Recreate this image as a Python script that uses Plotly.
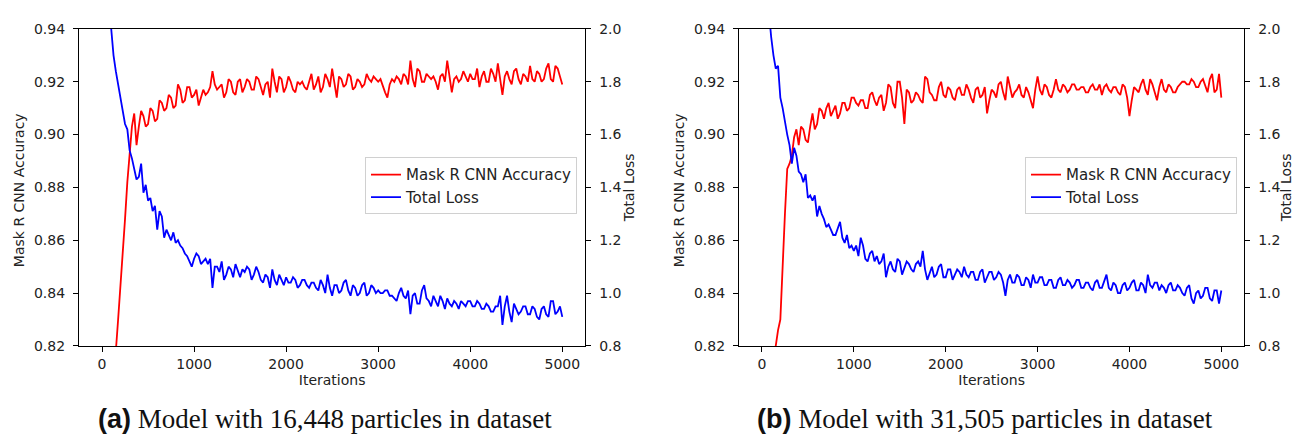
import plotly.graph_objects as go

# ---------------- data ----------------
iterations = list(range(0, 5001, 25))

acc_a = [0.700, 0.720, 0.740, 0.762, 0.785, 0.800, 0.818, 0.830, 0.842, 0.857,
         0.868, 0.882, 0.893, 0.903, 0.908, 0.896, 0.903, 0.909, 0.907, 0.903,
         0.904, 0.910, 0.909, 0.905, 0.906, 0.913, 0.912, 0.909, 0.910, 0.915,
         0.914, 0.910, 0.911, 0.919, 0.917, 0.912, 0.913, 0.918, 0.918, 0.914,
         0.915, 0.917, 0.911, 0.914, 0.917, 0.915, 0.916, 0.918, 0.924, 0.919,
         0.917, 0.918, 0.919, 0.914, 0.916, 0.921, 0.920, 0.916, 0.915, 0.920,
         0.921, 0.916, 0.918, 0.921, 0.920, 0.917, 0.917, 0.922, 0.921, 0.918,
         0.915, 0.919, 0.920, 0.914, 0.925, 0.920, 0.916, 0.922, 0.921, 0.916,
         0.918, 0.922, 0.920, 0.917, 0.916, 0.920, 0.919, 0.920, 0.918, 0.917,
         0.920, 0.923, 0.917, 0.919, 0.922, 0.916, 0.918, 0.923, 0.921, 0.918,
         0.925, 0.920, 0.914, 0.922, 0.921, 0.918, 0.919, 0.923, 0.922, 0.917,
         0.918, 0.921, 0.920, 0.918, 0.919, 0.923, 0.921, 0.920, 0.922, 0.921,
         0.920, 0.921, 0.918, 0.916, 0.914, 0.919, 0.921, 0.920, 0.922, 0.921,
         0.919, 0.923, 0.922, 0.919, 0.928, 0.921, 0.918, 0.925, 0.924, 0.920,
         0.920, 0.923, 0.922, 0.921, 0.922, 0.920, 0.917, 0.922, 0.923, 0.920,
         0.928, 0.921, 0.916, 0.921, 0.922, 0.920, 0.921, 0.924, 0.922, 0.920,
         0.923, 0.921, 0.921, 0.925, 0.918, 0.922, 0.924, 0.920, 0.920, 0.925,
         0.923, 0.920, 0.927, 0.921, 0.915, 0.922, 0.924, 0.921, 0.919, 0.924,
         0.925, 0.921, 0.919, 0.923, 0.922, 0.920, 0.926, 0.921, 0.920, 0.924,
         0.923, 0.920, 0.921, 0.925, 0.927, 0.921, 0.920, 0.926, 0.925, 0.922,
         0.919]

loss_a = [2.40, 2.30, 2.20, 2.10, 2.00, 1.90, 1.84, 1.79, 1.74, 1.70,
          1.64, 1.62, 1.54, 1.51, 1.47, 1.43, 1.44, 1.49, 1.38, 1.41,
          1.35, 1.36, 1.31, 1.33, 1.24, 1.31, 1.29, 1.21, 1.24, 1.22,
          1.20, 1.23, 1.19, 1.20, 1.18, 1.17, 1.15, 1.14, 1.12, 1.10,
          1.13, 1.15, 1.14, 1.11, 1.12, 1.13, 1.11, 1.13, 1.02, 1.10,
          1.10, 1.08, 1.12, 1.05, 1.07, 1.10, 1.09, 1.06, 1.11, 1.08,
          1.06, 1.09, 1.08, 1.10, 1.09, 1.05, 1.07, 1.10, 1.08, 1.05,
          1.04, 1.07, 1.06, 1.02, 1.09, 1.05, 1.03, 1.07, 1.05, 1.03,
          1.06, 1.04, 1.04, 1.06, 1.05, 1.02, 1.03, 1.05, 1.05, 1.03,
          1.02, 1.04, 1.04, 1.02, 1.01, 1.05, 1.03, 1.00, 1.07, 1.02,
          0.99, 1.03, 1.03, 1.00, 1.01, 1.04, 1.05, 1.01, 0.99, 1.03,
          1.02, 0.99, 1.00, 1.03, 1.04, 0.99, 1.00, 1.03, 1.02, 1.00,
          1.01, 1.00, 1.00, 1.01, 1.01, 0.99, 0.99, 0.98, 0.97, 1.00,
          1.02, 0.99, 0.98, 1.01, 0.92, 0.99, 1.00, 0.96, 0.96, 1.01,
          1.03, 0.98, 0.97, 0.95, 0.99, 0.97, 0.95, 0.99, 0.97, 0.94,
          0.98, 0.96, 0.95, 0.97, 0.96, 0.94, 0.97, 0.96, 0.95, 0.97,
          0.97, 0.95, 0.95, 0.97, 0.96, 0.94, 0.94, 0.96, 0.95, 0.93,
          0.93, 0.95, 0.95, 0.99, 0.88, 0.95, 0.99, 0.93, 0.89, 0.96,
          0.94, 0.92, 0.93, 0.95, 0.95, 0.92, 0.92, 0.95, 0.94, 0.91,
          0.90, 0.94, 0.95, 0.92, 0.91, 0.97, 0.97, 0.92, 0.93, 0.95,
          0.91]

acc_b = [0.680, 0.705, 0.730, 0.755, 0.780, 0.800, 0.820, 0.826, 0.830, 0.852,
         0.870, 0.887, 0.889, 0.892, 0.899, 0.902, 0.896, 0.903, 0.902, 0.898,
         0.897, 0.903, 0.908, 0.902, 0.904, 0.910, 0.909, 0.906, 0.910, 0.912,
         0.907, 0.909, 0.911, 0.906, 0.908, 0.912, 0.912, 0.909, 0.910, 0.914,
         0.914, 0.912, 0.911, 0.913, 0.913, 0.910, 0.910, 0.915, 0.916, 0.913,
         0.911, 0.914, 0.915, 0.909, 0.912, 0.919, 0.918, 0.912, 0.910, 0.920,
         0.920, 0.914, 0.904, 0.917, 0.916, 0.912, 0.913, 0.916, 0.915, 0.913,
         0.912, 0.922, 0.921, 0.916, 0.915, 0.913, 0.913, 0.918, 0.920, 0.915,
         0.914, 0.918, 0.917, 0.914, 0.913, 0.917, 0.918, 0.915, 0.915, 0.919,
         0.917, 0.914, 0.912, 0.917, 0.918, 0.914, 0.915, 0.918, 0.908, 0.913,
         0.917, 0.916, 0.914, 0.919, 0.920, 0.916, 0.913, 0.922, 0.918, 0.914,
         0.916, 0.917, 0.919, 0.915, 0.914, 0.918, 0.916, 0.913, 0.910, 0.917,
         0.922, 0.917, 0.915, 0.919, 0.918, 0.915, 0.914, 0.917, 0.921, 0.917,
         0.916, 0.919, 0.918, 0.916, 0.917, 0.919, 0.919, 0.917, 0.917, 0.918,
         0.918, 0.916, 0.916, 0.918, 0.919, 0.917, 0.917, 0.919, 0.915, 0.918,
         0.919, 0.917, 0.916, 0.918, 0.918, 0.916, 0.915, 0.919, 0.918, 0.914,
         0.907, 0.913, 0.918, 0.917, 0.916, 0.919, 0.921, 0.917, 0.915, 0.921,
         0.919, 0.916, 0.913, 0.918, 0.921, 0.917, 0.916, 0.919, 0.918, 0.916,
         0.916, 0.918, 0.919, 0.920, 0.920, 0.919, 0.919, 0.921, 0.920, 0.918,
         0.918, 0.920, 0.921, 0.918, 0.916, 0.921, 0.923, 0.916, 0.917, 0.923,
         0.914]

loss_b = [2.35, 2.25, 2.15, 2.05, 1.97, 1.90, 1.85, 1.86, 1.74, 1.70,
          1.64, 1.60, 1.56, 1.49, 1.55, 1.52, 1.46, 1.45, 1.42, 1.45,
          1.36, 1.37, 1.35, 1.37, 1.29, 1.33, 1.30, 1.28, 1.25, 1.26,
          1.24, 1.22, 1.22, 1.25, 1.27, 1.21, 1.19, 1.22, 1.17, 1.18,
          1.16, 1.18, 1.14, 1.21, 1.18, 1.13, 1.12, 1.15, 1.16, 1.12,
          1.14, 1.11, 1.12, 1.15, 1.06, 1.10, 1.12, 1.09, 1.08, 1.13,
          1.12, 1.07, 1.10, 1.12, 1.11, 1.09, 1.08, 1.11, 1.12, 1.10,
          1.16, 1.09, 1.05, 1.08, 1.10, 1.06, 1.07, 1.10, 1.11, 1.06,
          1.06, 1.09, 1.09, 1.05, 1.07, 1.09, 1.08, 1.06, 1.10, 1.07,
          1.06, 1.08, 1.08, 1.05, 1.05, 1.08, 1.09, 1.04, 1.06, 1.08,
          1.08, 1.05, 1.06, 1.08, 1.07, 1.04, 0.99, 1.05, 1.07, 1.04,
          1.04, 1.07, 1.06, 1.03, 1.03, 1.06, 1.05, 1.02, 1.07, 1.04,
          1.04, 1.06, 1.06, 1.03, 1.03, 1.05, 1.05, 1.02, 1.02, 1.05,
          1.06, 1.03, 1.03, 1.05, 1.04, 1.02, 1.03, 1.05, 1.05, 1.02,
          1.02, 1.04, 1.04, 1.02, 1.01, 1.04, 1.05, 1.02, 1.02, 1.05,
          1.07, 1.02, 1.01, 1.04, 1.03, 1.00, 1.00, 1.03, 1.04, 1.01,
          1.02, 1.04, 1.05, 1.01, 1.01, 1.04, 1.03, 1.00, 1.07, 1.03,
          1.02, 1.04, 1.04, 1.01, 1.03, 1.02, 1.00, 1.03, 1.04, 1.01,
          1.01, 1.03, 1.02, 1.00, 0.99, 1.02, 1.03, 0.98, 0.96, 1.00,
          1.01, 0.98, 0.99, 1.02, 1.02, 0.98, 0.97, 1.01, 1.01, 0.96,
          1.01]

x_ticks = [0, 1000, 2000, 3000, 4000, 5000]
acc_ticks = [0.82, 0.84, 0.86, 0.88, 0.90, 0.92, 0.94]
loss_ticks = [0.8, 1.0, 1.2, 1.4, 1.6, 1.8, 2.0]

acc_name = "Mask R CNN Accuracy"
loss_name = "Total Loss"
x_title = "Iterations"
captions = ["(a)", "(b)"]
caption_texts = ["Model with 16,448 particles in dataset",
                 "Model with 31,505 particles in dataset"]

# ---------------- figure ----------------
W, H = 1296, 440
FS = 14
TXT = "#222222"
TICKFONT = dict(family="DejaVu Sans", size=FS, color=TXT)
TITLEFONT = dict(family="DejaVu Sans", size=FS, color=TXT)
RED, BLUE = "#ff0000", "#0000ff"

fig = go.Figure()
specs = [(acc_a, acc_name, RED, "x", "y", "legend", "a1"),
         (loss_a, loss_name, BLUE, "x", "y2", "legend", "a2"),
         (acc_b, acc_name, RED, "x2", "y3", "legend2", "b1"),
         (loss_b, loss_name, BLUE, "x2", "y4", "legend2", "b2")]
for vals, name, col, xa, ya, leg, grp in specs:
    fig.add_trace(go.Scatter(x=iterations, y=vals, mode="lines", name=name,
                             line=dict(color=col, width=1.8), xaxis=xa, yaxis=ya,
                             legend=leg, legendgroup=grp))

ydom = [1 - 350.7 / H, 1 - 21.7 / H]
xdom_a = [79 / W, 585.3 / W]
xdom_b = [739 / W, 1244.3 / W]

common_axis = dict(showline=True, linecolor="black", linewidth=1.2,
                   ticks="outside", ticklen=5, tickcolor="black", tickwidth=1,
                   showgrid=False, zeroline=False, tickfont=TICKFONT)

def xax(dom, anchor):
    return dict(domain=dom, anchor=anchor, range=[-250, 5250], tickvals=x_ticks,
                mirror=True, title=dict(text=x_title, standoff=4, font=TITLEFONT),
                **common_axis)

def yacc(anchor):
    return dict(domain=ydom, anchor=anchor, range=[0.82, 0.94], tickvals=acc_ticks,
                tickformat=".2f", side="left", ticklabelstandoff=5,
                **common_axis)

def yloss(anchor, over):
    return dict(domain=ydom, anchor=anchor, overlaying=over, range=[0.8, 2.0],
                tickvals=loss_ticks, tickformat=".1f", side="right", ticklabelstandoff=5,
                **common_axis)

legend_common = dict(bgcolor="rgba(255,255,255,0.8)", bordercolor="#d0d0d0",
                     borderwidth=1, font=dict(family="DejaVu Sans", size=15, color=TXT),
                     xanchor="right", yanchor="top", xref="paper", yref="paper",
                     itemwidth=30, tracegroupgap=0)

fig.update_layout(
    width=W, height=H,
    margin=dict(l=0, r=0, t=0, b=0),
    paper_bgcolor="white", plot_bgcolor="white",
    xaxis=xax(xdom_a, "y"),
    yaxis=yacc("x"),
    yaxis2=yloss("x", "y"),
    xaxis2=xax(xdom_b, "y3"),
    yaxis3=yacc("x2"),
    yaxis4=yloss("x2", "y3"),
    legend=dict(x=577 / W, y=1 - 155 / H, **legend_common),
    legend2=dict(x=1237 / W, y=1 - 155 / H, **legend_common),
)

for cx, cy, txt in [(19, 189, acc_name), (629, 187, loss_name),
                    (679, 189, acc_name), (1286, 187, loss_name)]:
    fig.add_annotation(x=cx / W, y=1 - cy / H, xref="paper", yref="paper",
                       xanchor="center", yanchor="middle", showarrow=False,
                       textangle=-90, text=txt, font=TITLEFONT)

for i, cx in enumerate([325.5, 985]):
    fig.add_annotation(
        x=cx / W, y=1 - 427 / H, xref="paper", yref="paper",
        xanchor="center", yanchor="middle", showarrow=False,
        text=("<span style='font-family:Liberation Sans;font-weight:bold'>"
              + captions[i] + "</span> " + caption_texts[i]),
        font=dict(family="Liberation Serif", size=27, color="#111111"),
    )

fig.write_html("out.html", config={"displayModeBar": False},
               post_script="document.body.style.margin='0';document.body.style.overflow='hidden';")
